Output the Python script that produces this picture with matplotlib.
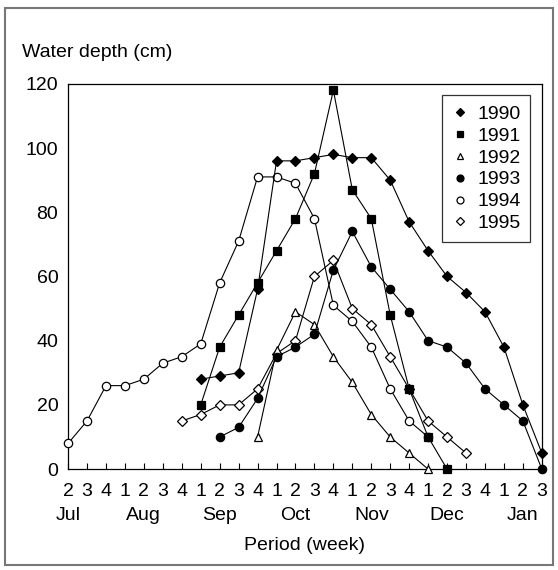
import matplotlib
matplotlib.use("Agg")
import matplotlib.pyplot as plt
from matplotlib.patches import Rectangle

plt.rcParams['font.family'] = ['Liberation Sans', 'DejaVu Sans']
plt.rcParams['font.size'] = 14

# week positions run Jul wk2 ... Jan wk3 (26 weeks)
week_labels = ['2', '3', '4', '1', '2', '3', '4', '1', '2', '3', '4', '1', '2',
               '3', '4', '1', '2', '3', '4', '1', '2', '3', '4', '1', '2', '3']
month_labels = ['Jul', 'Aug', 'Sep', 'Oct', 'Nov', 'Dec', 'Jan']
month_pos = [0, 4, 8, 12, 16, 20, 24]

# water depth (cm) per year, with the week index of the first reading
start_1990 = 7
depth_1990 = [28, 29, 30, 56, 96, 96, 97, 98, 97, 97, 90, 77, 68, 60, 55, 49, 38, 20, 5]
start_1991 = 7
depth_1991 = [20, 38, 48, 58, 68, 78, 92, 118, 87, 78, 48, 25, 10, 0]
start_1992 = 10
depth_1992 = [10, 37, 49, 45, 35, 27, 17, 10, 5, 0]
start_1993 = 8
depth_1993 = [10, 13, 22, 35, 38, 42, 62, 74, 63, 56, 49, 40, 38, 33, 25, 20, 15, 0]
start_1994 = 0
depth_1994 = [8, 15, 26, 26, 28, 33, 35, 39, 58, 71, 91, 91, 89, 78, 51, 46, 38, 25, 15, 10]
start_1995 = 6
depth_1995 = [15, 17, 20, 20, 25, 36, 40, 60, 65, 50, 45, 35, 25, 15, 10, 5]

series = [
    ('1995', start_1995, depth_1995, 'D', 'white'),
    ('1994', start_1994, depth_1994, 'o', 'white'),
    ('1992', start_1992, depth_1992, '^', 'white'),
    ('1993', start_1993, depth_1993, 'o', 'black'),
    ('1990', start_1990, depth_1990, 'D', 'black'),
    ('1991', start_1991, depth_1991, 's', 'black'),
]

fig = plt.figure(figsize=(5.58, 5.70), dpi=100)
ax = fig.add_axes([0.122, 0.177, 0.849, 0.676])

for i, (name, start, vals, mk, face) in enumerate(series):
    xs = list(range(start, start + len(vals)))
    ax.plot(xs, vals, color='black', lw=0.8, marker=mk, ms=6 if mk != 'D' else 5,
            mfc=face, mec='black', mew=0.9, zorder=3 + i, clip_on=False)

# legend with markers only
handles = []
for name, mk, face in [('1990', 'D', 'black'), ('1991', 's', 'black'),
                       ('1992', '^', 'white'), ('1993', 'o', 'black'),
                       ('1994', 'o', 'white'), ('1995', 'D', 'white')]:
    h, = ax.plot([], [], ls='none', marker=mk, ms=5 if mk != 'D' else 4.5,
                 mfc=face, mec='black', mew=0.9, color='black')
    handles.append((h, name))
leg = ax.legend([h for h, _ in handles], [n for _, n in handles], loc='upper right',
                frameon=True, fancybox=False, handlelength=0.8, handletextpad=0.5,
                labelspacing=0.22, borderaxespad=0.6, borderpad=0.5, fontsize=14)
leg.get_frame().set_edgecolor('black')
leg.get_frame().set_linewidth(0.9)

ax.set_xlim(0, 25)
ax.set_ylim(0, 120)
ax.set_yticks([0, 20, 40, 60, 80, 100, 120])
ax.set_xticks(range(len(week_labels)))
ax.set_xticklabels(week_labels)
ax.tick_params(axis='x', direction='in', length=4, width=0.8, pad=10)
ax.tick_params(axis='y', length=0, pad=7)
for s in ax.spines.values():
    s.set_linewidth(0.9)

for m, p in zip(month_labels, month_pos):
    ax.text(p, -0.12, m, transform=ax.get_xaxis_transform(), ha='center', va='center')
ax.text(12.5, -0.198, 'Period (week)', transform=ax.get_xaxis_transform(),
        ha='center', va='center')

fig.text(0.04, 0.908, 'Water depth (cm)', ha='left', va='center')

# outer frame around the whole figure
fig.patches.append(Rectangle((0.009, 0.009), 0.982, 0.977, transform=fig.transFigure,
                             fill=False, edgecolor='#777777', lw=1.5))

fig.savefig('out.png', dpi=100)
